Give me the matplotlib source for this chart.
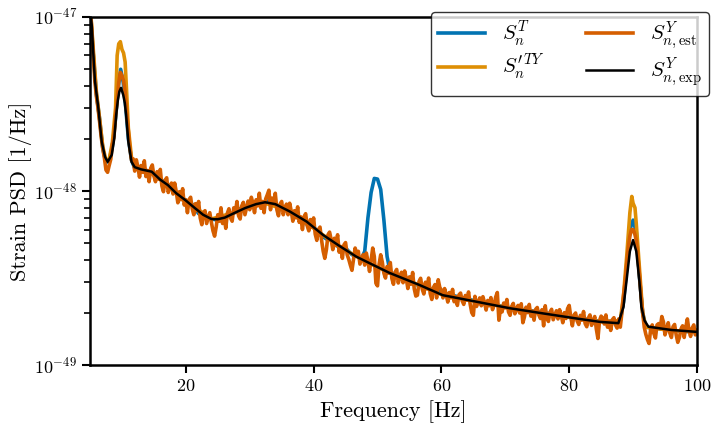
# Strain PSD comparison plot
import numpy as np
import matplotlib.pyplot as plt
from matplotlib.ticker import NullFormatter

plt.rcParams['font.family'] = 'serif'
plt.rcParams['font.serif'] = ['cmr10']
plt.rcParams['mathtext.fontset'] = 'cm'
plt.rcParams['axes.formatter.use_mathtext'] = True

unit = 1e-48

# S_n,exp^Y (smooth expected curve), values in units of 1e-48 / Hz
f_exp = [5.0, 5.27, 5.5, 5.78, 6.3, 6.83, 7.35, 7.77, 8.4, 8.8, 9.1, 9.35, 9.6, 9.85,
         10.2, 10.45, 10.65, 11.0, 11.5, 12.0, 13.0, 14.66, 16.0, 17.2, 18.5, 19.9,
         21.4, 22.7, 24.0, 25.0, 26.1, 27.7, 29.3, 31.0, 32.4, 34.0, 36.3, 38.9, 41.5,
         44.2, 46.7, 49.3, 51.9, 56.6, 60.2, 65.5, 70.7, 75.9, 81.2, 84.8, 87.7, 88.5,
         89.0, 89.5, 90.0, 90.5, 91.0, 91.3, 91.8, 92.4, 96.0, 100.0]
psd_exp = [11.0, 9.0, 6.3, 4.25, 3.0, 1.92, 1.57, 1.47, 1.61, 2.0, 2.74, 3.3, 3.73, 3.91,
           3.56, 3.2, 2.74, 1.92, 1.47, 1.37, 1.33, 1.29, 1.16, 1.08, 0.97, 0.887,
           0.798, 0.73, 0.69, 0.688, 0.703, 0.75, 0.798, 0.84, 0.861, 0.84, 0.761, 0.667, 0.558,
           0.479, 0.419, 0.376, 0.338, 0.288, 0.252, 0.231, 0.212, 0.198, 0.185, 0.177, 0.174, 0.216,
           0.31, 0.45, 0.522, 0.45, 0.30, 0.216, 0.18, 0.166, 0.159, 0.155]

# S_n,est^Y (noisy estimate), 0.25 Hz grid from 5 to 100 Hz (one row per Hz)
f_est = np.arange(5.0, 100.001, 0.25)
psd_est = [
    11.5, 8.8, 6.1, 4.3,
    3.5, 3.0, 2.5, 2.05,
    1.75, 1.55, 1.32, 1.28,
    1.40, 1.52, 1.85, 2.05,
    2.7, 3.3, 4.2, 4.8,
    4.6, 4.3, 3.7, 2.8,
    2.2, 1.75, 1.50, 1.53,
    1.30, 1.51, 1.37, 1.20,
    1.40, 1.28, 1.49, 1.21,
    1.31, 1.13, 1.35, 1.41,
    1.22, 1.13, 1.29, 1.17,
    1.33, 1.07, 0.99, 1.15,
    1.19, 0.98, 1.05, 1.11,
    0.96, 1.11, 0.99, 0.855,
    0.99, 0.89, 1.03, 0.83,
    0.89, 0.75, 0.89, 0.92,
    0.79, 0.73, 0.845, 0.77,
    0.87, 0.70, 0.64, 0.75,
    0.77, 0.65, 0.70, 0.75,
    0.66, 0.59, 0.55, 0.62,
    0.73, 0.67, 0.80, 0.65,
    0.71, 0.61, 0.745, 0.79,
    0.70, 0.67, 0.80, 0.75,
    0.87, 0.72, 0.69, 0.82,
    0.86, 0.73, 0.80, 0.875,
    0.78, 0.92, 0.85, 0.75,
    0.89, 0.82, 0.97, 0.795,
    0.87, 0.75, 0.90, 0.95,
    1.01, 0.78, 0.91, 0.84,
    0.97, 0.78, 0.72, 0.84,
    0.87, 0.73, 0.79, 0.84,
    0.73, 0.85, 0.765, 0.67,
    0.77, 0.70, 0.81, 0.66,
    0.71, 0.60, 0.71, 0.74,
    0.63, 0.59, 0.685, 0.62,
    0.70, 0.565, 0.52, 0.60,
    0.62, 0.52, 0.45, 0.41,
    0.46, 0.56, 0.58, 0.525,
    0.46, 0.535, 0.485, 0.56,
    0.445, 0.48, 0.41, 0.49,
    0.505, 0.43, 0.405, 0.375,
    0.35, 0.405, 0.47, 0.435,
    0.45, 0.38, 0.405, 0.43,
    0.375, 0.44, 0.395, 0.345,
    0.40, 0.47, 0.42, 0.295,
    0.285, 0.38, 0.43, 0.39,
    0.337, 0.316, 0.368, 0.337,
    0.388, 0.314, 0.291, 0.341,
    0.354, 0.296, 0.319, 0.341,
    0.297, 0.347, 0.314, 0.275,
    0.321, 0.291, 0.340, 0.274,
    0.249, 0.252, 0.302, 0.315,
    0.273, 0.256, 0.299, 0.274,
    0.316, 0.257, 0.238, 0.279,
    0.290, 0.243, 0.309, 0.279,
    0.269, 0.243, 0.275, 0.254,
    0.230, 0.261, 0.243, 0.272,
    0.231, 0.247, 0.220, 0.253,
    0.259, 0.234, 0.223, 0.251,
    0.236, 0.263, 0.224, 0.200,
    0.193, 0.248, 0.217, 0.230,
    0.243, 0.219, 0.247, 0.228,
    0.207, 0.235, 0.219, 0.244,
    0.208, 0.223, 0.246, 0.261,
    0.181, 0.211, 0.202, 0.227,
    0.213, 0.238, 0.202, 0.193,
    0.217, 0.226, 0.197, 0.209,
    0.220, 0.199, 0.225, 0.175,
    0.189, 0.215, 0.200, 0.223,
    0.191, 0.204, 0.181, 0.209,
    0.214, 0.194, 0.185, 0.208,
    0.168, 0.219, 0.186, 0.178,
    0.201, 0.209, 0.182, 0.193,
    0.205, 0.184, 0.208, 0.193,
    0.175, 0.200, 0.185, 0.211,
    0.220, 0.189, 0.168, 0.193,
    0.199, 0.179, 0.171, 0.193,
    0.181, 0.203, 0.173, 0.166,
    0.186, 0.194, 0.169, 0.180,
    0.190, 0.161, 0.142, 0.180,
    0.191, 0.186, 0.172, 0.194,
    0.165, 0.178, 0.158, 0.182,
    0.187, 0.170, 0.163, 0.184,
    0.165, 0.20, 0.25, 0.30,
    0.38, 0.47, 0.55, 0.60,
    0.60, 0.57, 0.52, 0.42,
    0.33, 0.25, 0.20, 0.165,
    0.15, 0.14, 0.133, 0.16,
    0.17, 0.152, 0.143, 0.170,
    0.173, 0.162, 0.190, 0.177,
    0.149, 0.162, 0.175, 0.153,
    0.144, 0.166, 0.171, 0.149,
    0.135, 0.144, 0.161, 0.168,
    0.144, 0.165, 0.184, 0.158,
    0.146, 0.163, 0.170, 0.149,
    0.158]

# S_n^T
f_T = [5.0, 5.5, 6.0, 6.5, 7.0, 7.5, 8.0, 8.5, 9.0, 9.4, 9.8, 10.2, 10.6, 11.0, 11.5, 12.0,
       13.0, 14.0, 15.0, 16.0, 17.0, 18.0, 19.0, 20.0, 21.0, 22.0, 23.0, 24.0, 25.0,
       26.0, 27.0, 28.0, 29.0, 30.0, 31.0, 32.0, 33.0, 34.0, 35.0, 36.0, 37.0, 38.0,
       39.0, 40.0, 41.0, 42.0, 43.0, 44.0, 45.0, 46.0, 47.0, 47.5, 48.0, 48.5, 49.0,
       49.5, 50.0, 50.5, 51.0, 51.5, 52.0, 53.0, 54.0, 55.0, 56.0, 57.0, 58.0, 59.0,
       60.0, 62.0, 64.0, 66.0, 68.0, 70.0, 72.0, 74.0, 76.0, 78.0, 80.0, 82.0, 84.0,
       86.0, 88.0, 88.5, 89.0, 89.5, 90.0, 90.5, 91.0, 91.5, 92.0, 94.0, 96.0, 98.0, 100.0]
psd_T = [11.0, 6.2, 3.6, 2.6, 1.75, 1.45, 1.50, 1.8, 2.6, 3.9, 5.0, 4.2, 3.0, 2.0, 1.5, 1.35,
         1.36, 1.30, 1.25, 1.18, 1.08, 1.03, 0.94, 0.88, 0.84, 0.74, 0.72, 0.69, 0.68,
         0.72, 0.72, 0.78, 0.80, 0.82, 0.86, 0.85, 0.88, 0.82, 0.81, 0.76, 0.72, 0.70,
         0.64, 0.62, 0.56, 0.53, 0.52, 0.47, 0.47, 0.43, 0.42, 0.41, 0.45, 0.70, 0.98,
         1.18, 1.17, 1.02, 0.68, 0.42, 0.34, 0.33, 0.31, 0.30, 0.29, 0.285, 0.275, 0.27,
         0.26, 0.25, 0.24, 0.23, 0.225, 0.215, 0.21, 0.205, 0.20, 0.195, 0.19, 0.185, 0.18,
         0.178, 0.18, 0.23, 0.36, 0.60, 0.68, 0.58, 0.32, 0.20, 0.165, 0.162, 0.158, 0.156, 0.155]

# S'_n^TY
f_TY = [5.0, 5.5, 6.0, 6.5, 7.0, 7.5, 8.0, 8.5, 9.0, 9.25, 9.5, 9.75, 10.0, 10.25, 10.5,
        10.75, 11.0, 11.5, 12.0, 14.0, 16.0, 18.0, 20.0, 24.0, 28.0, 32.0, 36.0, 40.0,
        44.0, 48.0, 52.0, 56.0, 60.0, 65.0, 70.0, 75.0, 80.0, 85.0, 88.0, 88.5, 89.0,
        89.5, 89.8, 90.0, 90.3, 90.5, 91.0, 91.5, 92.0, 96.0, 100.0]
psd_TY = [12.0, 6.6, 3.7, 2.6, 1.8, 1.5, 1.52, 1.9, 3.0, 6.0, 7.0, 7.2, 6.5, 6.2, 5.5,
          3.6, 2.3, 1.55, 1.37, 1.30, 1.16, 1.01, 0.88, 0.69, 0.76, 0.86, 0.77, 0.61,
          0.48, 0.395, 0.337, 0.293, 0.254, 0.233, 0.215, 0.20, 0.188, 0.177, 0.18, 0.25, 0.42,
          0.75, 0.93, 0.85, 0.80, 0.65, 0.36, 0.20, 0.165, 0.158, 0.155]

fig, ax = plt.subplots(figsize=(7.2, 4.32), dpi=100)
fig.subplots_adjust(left=0.125, right=0.968, top=0.961, bottom=0.155)

ax.plot(f_T, np.array(psd_T) * unit, color='#0173b2', lw=2.6, label=r'$S_n^T$')
ax.plot(f_TY, np.array(psd_TY) * unit, color='#de8f05', lw=2.6, label=r'$S_n^{\prime\,TY}$')
ax.plot(f_est, np.array(psd_est) * unit, color='#d55e00', lw=2.6,
        label=r'$S_{n,\mathrm{est}}^Y$')
ax.plot(f_exp, np.array(psd_exp) * unit, color='black', lw=1.8,
        label=r'$S_{n,\mathrm{exp}}^Y$')

ax.set_yscale('log')
ax.set_xlim(5, 100)
ax.set_ylim(1e-49, 1e-47)
ax.set_xticks([20, 40, 60, 80, 100])
ax.set_yticks([1e-49, 1e-48, 1e-47])
ax.yaxis.set_minor_formatter(NullFormatter())

for s in ax.spines.values():
    s.set_linewidth(1.8)
ax.tick_params(which='major', length=6, width=1.5, labelsize=13)
ax.tick_params(which='minor', length=4, width=1.2)
ax.tick_params(axis='x', which='minor', bottom=False)

ax.set_xlabel('Frequency [Hz]', fontsize=16)
ax.set_ylabel('Strain PSD [1/Hz]', fontsize=16, labelpad=1)

leg = ax.legend(loc='upper right', bbox_to_anchor=(1.02, 1.015), borderaxespad=0,
                ncol=2, fontsize=15, edgecolor='black', fancybox=True,
                labelspacing=0.2, borderpad=0.35, handlelength=2.25)

plt.savefig('out.png', dpi=100)
